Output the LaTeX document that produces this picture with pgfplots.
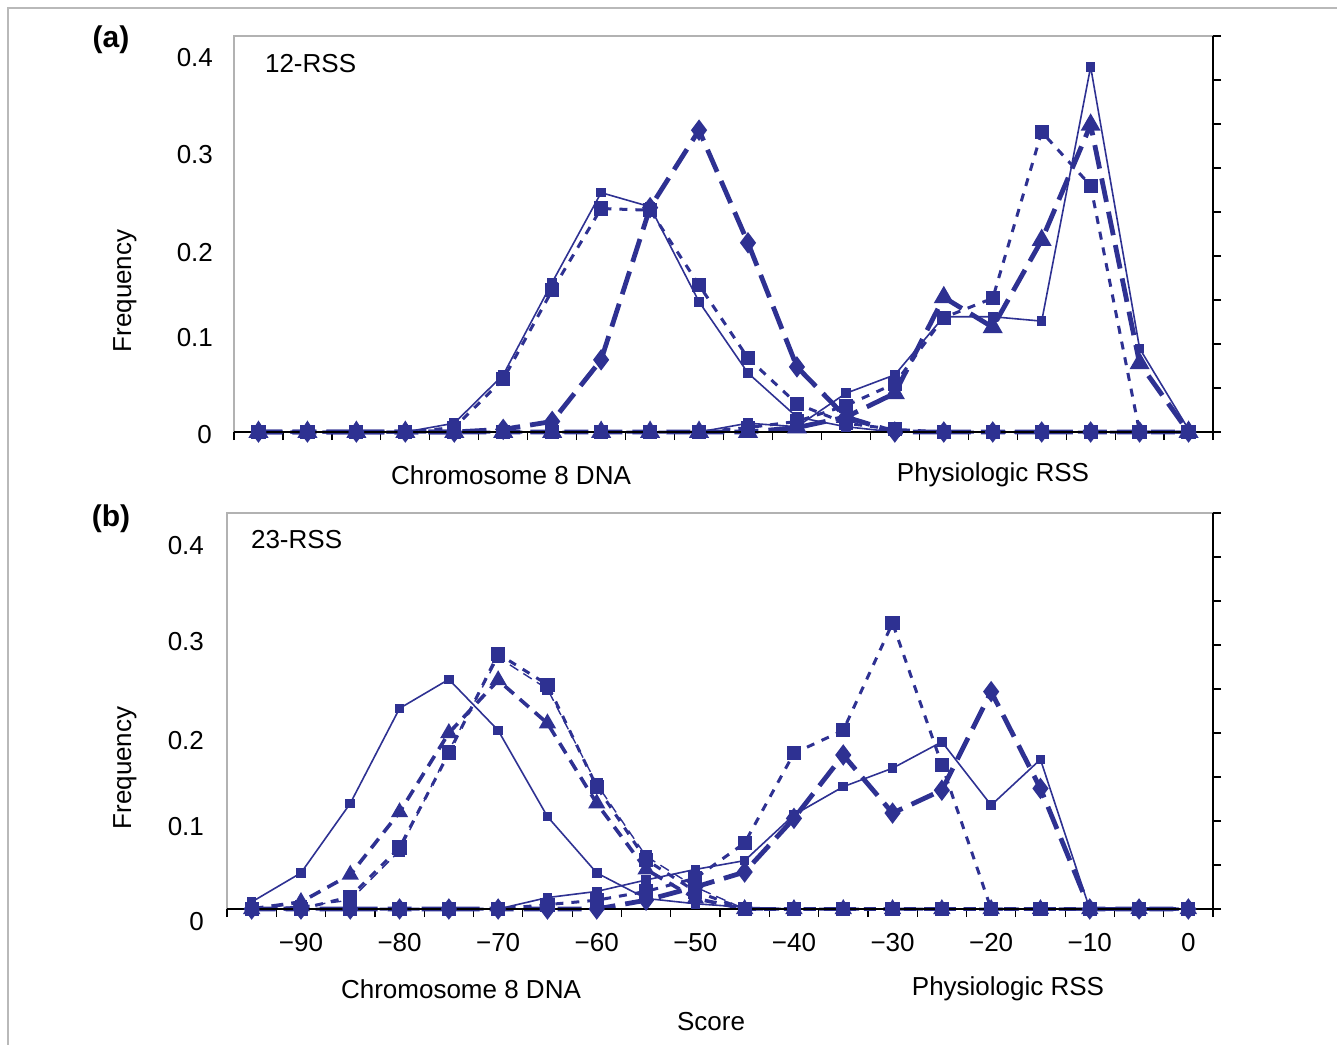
\documentclass[border=0pt]{standalone}
\usepackage{pgfplots}
\pgfplotsset{compat=1.18}
\usepackage{pgfplotstable}
\usepackage{fontspec}
\setmainfont{Liberation Sans}
\definecolor{navy}{RGB}{46,49,146}

% panel (a): 12-RSS, c = chromosome 8 DNA, p = physiologic RSS
\pgfplotstableread{
x    c1     c2     c3     p1     p2     p3
-95  0      0      0      0      0      0
-90  0      0      0      0      0      0
-85  0      0      0      0      0      0
-80  0      0      0      0      0      0
-75  0.010  0.005  0      0      0      0
-70  0.065  0.060  0.003  0      0      0
-65  0.170  0.161  0.012  0      0      0
-60  0.272  0.254  0.082  0      0      0
-55  0.256  0.252  0.255  0      0      0
-50  0.148  0.167  0.343  0      0      0
-45  0.067  0.084  0.215  0.010  0.005  0
-40  0.017  0.032  0.074  0.006  0.012  0.005
-35  0.006  0.010  0.017  0.044  0.030  0.017
-30  0      0.003  0      0.065  0.055  0.044
-25  0      0      0      0.131  0.130  0.153
-20  0      0      0      0.131  0.152  0.119
-15  0      0      0      0.126  0.341  0.218
-10  0      0      0      0.415  0.280  0.349
-5   0      0      0      0.095  0      0.078
0    0      0      0      0.003  0      0
}\dataA

% panel (b): 23-RSS
\pgfplotstableread{
x    c1     c2     c3     c4     p1     p2     p3
-95  0.008  0      0      0      0      0      0
-90  0.041  0.008  0      0.003  0      0      0
-85  0.120  0.039  0.014  0.010  0      0      0
-80  0.228  0.110  0.070  0.066  0      0      0
-75  0.261  0.200  0.177  0.180  0      0      0
-70  0.203  0.260  0.290  0.286  0      0      0
-65  0.105  0.211  0.255  0.250  0.013  0.005  0
-60  0.041  0.120  0.139  0.142  0.020  0.010  0
-55  0.012  0.045  0.056  0.060  0.033  0.020  0.010
-50  0.006  0.012  0.020  0.025  0.045  0.035  0.025
-45  0.002  0      0      0      0.055  0.075  0.042
-40  0      0      0      0      0.107  0.177  0.103
-35  0      0      0      0      0.139  0.203  0.175
-30  0      0      0      0      0.160  0.325  0.109
-25  0      0      0      0      0.190  0.164  0.135
-20  0      0      0      0      0.118  0      0.247
-15  0      0      0      0      0.170  0      0.137
-10  0      0      0      0      0      0      0
-5   0      0      0      0      0      0      0
0    0      0      0      0      0      0      0
}\dataB

\pgfplotsset{
  rss/.style={
    scale only axis, height=198pt,
    xmin=-97.5, xmax=2.5, ymin=0, ymax=0.45,
    axis line style={draw=none},
    xtick={-97.5,-92.5,...,2.5}, xticklabels={}, xtick pos=bottom,
    ytick={0,0.05,0.1,0.15,0.2,0.25,0.3,0.35,0.4,0.45},
    yticklabels={0,,,,,,,,,},
    ytick pos=right, yticklabel pos=left,
    tick align=outside, major tick length=4pt,
    tick style={black, line width=0.6pt},
    tick label style={font=\fontsize{13}{15.6}\selectfont},
    clip=false,
  },
  sol/.style={navy, line width=0.8pt, mark=square*, mark size=2pt, mark options={solid}},
  sdash/.style={navy, line width=1.5pt, dash pattern=on 4pt off 4pt, mark=square*, mark size=2.8pt, mark options={solid}},
  tdash/.style={navy, line width=0.7pt, dash pattern=on 5pt off 3pt, mark=square*, mark size=2.6pt, mark options={solid}},
  ldash/.style={navy, line width=2.4pt, dash pattern=on 12pt off 5pt, mark=diamond*, mark size=3.4pt, mark options={solid}},
  tdsh/.style={navy, line width=1.8pt, dash pattern=on 6pt off 4pt, mark=triangle*, mark size=3.2pt, mark options={solid}},
}

\begin{document}
\begin{tikzpicture}[font=\fontsize{13}{15.6}\selectfont]
\path[use as bounding box] (0pt,0pt) rectangle (668.5pt,-522pt);

\begin{axis}[rss, width=489.5pt, at={(117pt,-216pt)}, anchor=south west,
  yticklabel style={xshift=-3.5pt, yshift=-1.5pt},
  extra y ticks={0.107,0.2045,0.315,0.426},
  extra y tick labels={0.1,0.2,0.3,0.4},
  extra y tick style={major tick length=0pt, yticklabel style={xshift=-3.5pt, yshift=1.5pt}}]
\addplot[sol]   table[x=x, y=c1] {\dataA};
\addplot[sdash] table[x=x, y=c2] {\dataA};
\addplot[ldash] table[x=x, y=c3] {\dataA};
\addplot[sol]   table[x=x, y=p1] {\dataA};
\addplot[sdash] table[x=x, y=p2] {\dataA};
\addplot[ldash, mark=triangle*] table[x=x, y=p3] {\dataA};
\draw[gray!60, line width=0.8pt] (rel axis cs:0,0) -- (rel axis cs:0,1) -- (rel axis cs:1,1);
\draw[black, line width=0.8pt] (rel axis cs:0,0) -- (rel axis cs:1,0) -- (rel axis cs:1,1);
\end{axis}

\begin{axis}[rss, width=493pt, at={(113.5pt,-454.5pt)}, anchor=south west,
  yticklabel style={xshift=-4pt, yshift=-6.5pt},
  extra y ticks={0.094,0.192,0.3034,0.4136},
  extra y tick labels={0.1,0.2,0.3,0.4},
  extra y tick style={major tick length=0pt, yticklabel style={xshift=-4pt, yshift=6.5pt}},
  extra x ticks={-90,-80,-70,-60,-50,-40,-30,-20,-10,0},
  extra x tick labels={−90,−80,−70,−60,−50,−40,−30,−20,−10,0},
  extra x tick style={major tick length=0pt, xticklabel style={yshift=-8.5pt}}]
\addplot[sol]   table[x=x, y=c1] {\dataB};
\addplot[tdsh]  table[x=x, y=c2] {\dataB};
\addplot[sdash] table[x=x, y=c3] {\dataB};
\addplot[tdash] table[x=x, y=c4] {\dataB};
\addplot[sol]   table[x=x, y=p1] {\dataB};
\addplot[sdash] table[x=x, y=p2] {\dataB};
\addplot[ldash] table[x=x, y=p3] {\dataB};
\draw[gray!60, line width=0.8pt] (rel axis cs:0,0) -- (rel axis cs:0,1) -- (rel axis cs:1,1);
\draw[black, line width=0.8pt] (rel axis cs:0,0) -- (rel axis cs:1,0) -- (rel axis cs:1,1);
\end{axis}

\begin{scope}[x=0.5pt, y=-0.5pt]
\draw[gray!55, line width=0.6pt] (8,1060) -- (8,8) -- (1350,8);
\node[font=\fontsize{15}{18}\selectfont\bfseries] at (111,40) {(a)};
\node[font=\fontsize{15}{18}\selectfont\bfseries] at (111,519) {(b)};
\node[rotate=90] at (125,291) {Frequency};
\node[rotate=90] at (125,768) {Frequency};
\node[anchor=west] at (258,64) {12-RSS};
\node[anchor=west] at (244,540) {23-RSS};
\node at (511,475) {Chromosome 8 DNA};
\node at (993,475) {Physiologic RSS};
\node at (461,989) {Chromosome 8 DNA};
\node at (1008,989) {Physiologic RSS};
\node at (711,1022) {Score};
\end{scope}
\end{tikzpicture}
\end{document}
